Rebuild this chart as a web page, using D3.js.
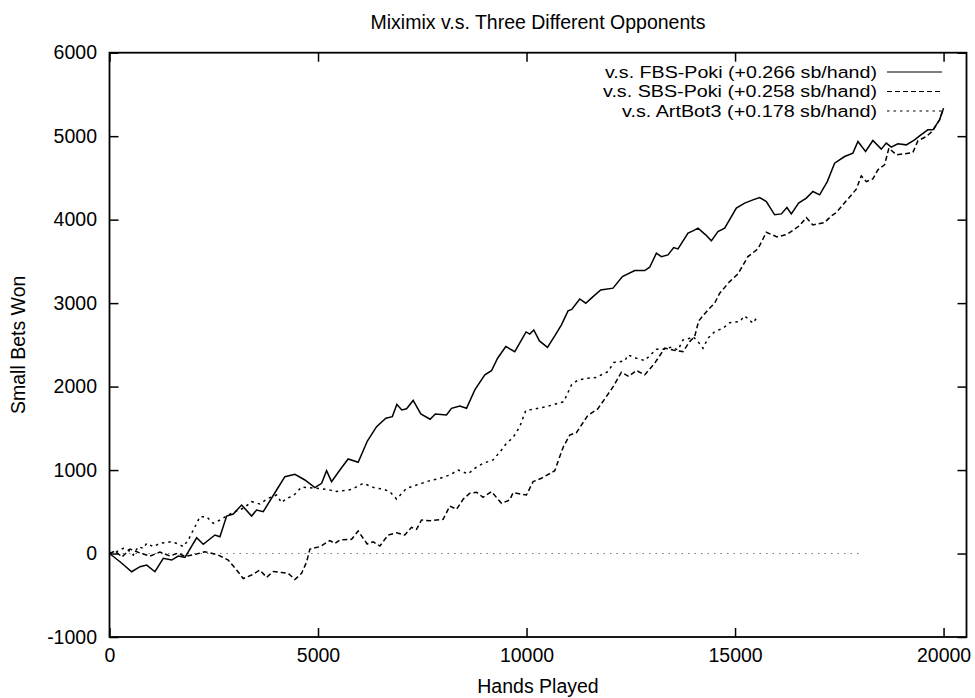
<!DOCTYPE html>
<html>

<head>
    <meta charset="utf-8">
    <title>Miximix</title>
    <script src="https://d3js.org/d3.v7.min.js"></script>

    <style>
        body {
            margin: 0;
            background: #fff;
        }

        text {
            font-family: "Liberation Sans", Arial, Helvetica, sans-serif;
            font-size: 19.5px;
            fill: #000;
        }
    </style>
</head>

<body>
    <svg id="chart" width="975" height="698"></svg>

    <script>
        // hands played / small bets won
        const fbsHands = [0, 252, 532, 731, 892, 1090, 1289, 1491, 1649, 1809, 2090, 2248, 2529, 2648, 2809, 2967, 3168, 3408, 3528, 3686,
            4007, 4206, 4446, 4685, 4925, 5086, 5205, 5325, 5524, 5723, 5963, 6183, 6404, 6627, 6782, 6890, 7010, 7123, 7281, 7465,
            7688, 7813, 8081, 8201, 8400, 8561, 8760, 9000, 9160, 9306, 9503, 9718, 9989, 10078, 10174, 10310, 10502, 10677, 10837, 10996,
            11084, 11276, 11420, 11595, 11779, 12074, 12299, 12594, 12834, 12953, 13114, 13234, 13392, 13529, 13632, 13872, 13992, 14111, 14296, 14432,
            14590, 14751, 15031, 15230, 15429, 15590, 15750, 15949, 16110, 16244, 16349, 16524, 16709, 16867, 17028, 17212, 17387, 17627, 17826, 17946,
            18130, 18305, 18506, 18626, 18746, 18904, 19106, 19305, 19425, 19623, 19743, 19903, 20000];
        const fbsWon = [0, -98, -218, -158, -138, -218, -58, -78, -30, -46, 189, 110, 222, 201, 449, 473, 581, 449, 521, 501,
            761, 921, 949, 881, 789, 841, 992, 861, 1001, 1133, 1093, 1348, 1520, 1620, 1640, 1786, 1720, 1734, 1834, 1672,
            1609, 1672, 1660, 1740, 1768, 1740, 1960, 2140, 2190, 2340, 2479, 2419, 2655, 2629, 2679, 2547, 2469, 2607, 2739, 2907,
            2925, 3050, 2999, 3078, 3158, 3179, 3318, 3390, 3390, 3430, 3598, 3557, 3578, 3665, 3650, 3838, 3866, 3898, 3818, 3746,
            3857, 3898, 4138, 4198, 4237, 4265, 4217, 4058, 4069, 4145, 4069, 4198, 4258, 4337, 4297, 4456, 4677, 4756, 4797, 4936,
            4816, 4948, 4845, 4917, 4869, 4908, 4896, 4956, 5004, 5076, 5076, 5196, 5336];

        const sbsHands = [0, 132, 300, 491, 731, 971, 1210, 1450, 1642, 1809, 2090, 2289, 2607, 2847, 3048, 3207, 3408, 3607, 3767, 3926,
            4127, 4285, 4446, 4606, 4726, 4805, 5045, 5284, 5404, 5524, 5805, 5963, 6179, 6322, 6483, 6682, 6883, 7082, 7243, 7362,
            7482, 7681, 8000, 8160, 8321, 8479, 8640, 8800, 8958, 9160, 9400, 9598, 9677, 9998, 10157, 10358, 10677, 10876, 11036, 11197,
            11468, 11707, 12074, 12275, 12450, 12635, 12834, 13073, 13313, 13512, 13752, 13912, 14032, 14128, 14351, 14511, 14631, 14871, 15070, 15310,
            15549, 15750, 16009, 16249, 16549, 16709, 16867, 17148, 17308, 17428, 17668, 17907, 18027, 18147, 18305, 18425, 18586, 18689, 18866, 19065,
            19264, 19384, 19585, 19743, 19903, 20000];
        const sbsWon = [0, 30, -42, 54, 6, -30, 18, -30, 6, -36, -6, 22, -18, -78, -198, -300, -258, -198, -285, -216,
            -228, -237, -312, -237, -102, 54, 82, 156, 120, 162, 170, 270, 114, 141, 90, 222, 249, 222, 314, 290,
            402, 393, 410, 569, 530, 650, 722, 734, 674, 741, 602, 641, 729, 701, 861, 901, 992, 1271, 1420, 1448,
            1654, 1732, 1996, 2172, 2122, 2193, 2140, 2280, 2460, 2439, 2419, 2539, 2599, 2787, 2919, 2999, 3119, 3258, 3350, 3557,
            3650, 3848, 3794, 3824, 3929, 4025, 3937, 3965, 4045, 4085, 4225, 4365, 4525, 4456, 4489, 4597, 4657, 4857, 4777, 4789,
            4804, 4944, 4996, 5064, 5196, 5336];

        const artHands = [0, 173, 331, 451, 570, 690, 810, 892, 1050, 1210, 1371, 1491, 1649, 1769, 1889, 2049, 2169, 2329, 2488, 2648,
            2847, 3008, 3207, 3408, 3607, 3806, 4007, 4127, 4247, 4405, 4606, 4884, 5205, 5445, 5805, 6083, 6363, 6562, 6722, 6883,
            7123, 7362, 7681, 7921, 8160, 8359, 8599, 8760, 8958, 9198, 9400, 9519, 9677, 9838, 9982, 10157, 10478, 10893, 11077, 11235,
            11475, 11676, 11834, 11954, 12091, 12355, 12434, 12635, 12834, 13114, 13272, 13474, 13632, 13752, 13912, 13992, 14111, 14231, 14351, 14511,
            14710, 14871, 15110, 15230, 15429, 15549];
        const artWon = [0, 22, 62, 42, -18, 82, 62, 122, 82, 122, 134, 141, 114, 82, 162, 321, 441, 441, 362, 402,
            461, 501, 542, 621, 593, 662, 701, 609, 662, 689, 797, 785, 770, 743, 767, 841, 785, 773, 741, 653,
            781, 821, 873, 901, 941, 1001, 953, 1021, 1081, 1121, 1241, 1321, 1390, 1520, 1714, 1728, 1760, 1819, 2020, 2080,
            2100, 2110, 2151, 2179, 2289, 2307, 2379, 2340, 2311, 2448, 2448, 2472, 2439, 2559, 2579, 2599, 2539, 2459, 2579, 2659,
            2699, 2766, 2778, 2847, 2759, 2847];

        // faint dotted trace along zero
        const zeroHands = [0, 18000];
        const zeroWon = [0, 0];

        const seriesNames = ["v.s. FBS-Poki (+0.266 sb/hand)", "v.s. SBS-Poki (+0.258 sb/hand)", "v.s. ArtBot3 (+0.178 sb/hand)"];
        const xTicks = [0, 5000, 10000, 15000, 20000];
        const yTicks = [-1000, 0, 1000, 2000, 3000, 4000, 5000, 6000];

        const svg = d3.select("#chart");
        const width = +svg.attr("width");
        const height = +svg.attr("height");
        const margin = { top: 52.7, right: 8.5, bottom: 61, left: 109.5 };
        const areaWidth = width - margin.left - margin.right;
        const areaHeight = height - margin.top - margin.bottom;

        const area = svg.append("g")
            .attr("transform", `translate(${margin.left},${margin.top})`);

        const x = d3.scaleLinear().domain([0, 20550]).range([0, areaWidth]);
        const y = d3.scaleLinear().domain([-1000, 6000]).range([areaHeight, 0]);

        const dashes = ["none", "5,3", "2.5,4"];
        const toPoints = (xs, ys) => xs.map((h, i) => ({ h: h, w: ys[i] }));
        const series = [
            toPoints(fbsHands, fbsWon),
            toPoints(sbsHands, sbsWon),
            toPoints(artHands, artWon)
        ];

        const line = d3.line()
            .x(d => x(d.h))
            .y(d => y(d.w));

        // zero trace
        area.append("path")
            .datum(toPoints(zeroHands, zeroWon))
            .attr("d", line)
            .attr("fill", "none")
            .attr("stroke", "#777")
            .attr("stroke-width", 1)
            .attr("stroke-dasharray", "1.5,5");

        area.selectAll(".series")
            .data(series)
            .join("path")
            .attr("class", "series")
            .attr("d", line)
            .attr("fill", "none")
            .attr("stroke", "#000")
            .attr("stroke-width", 1.5)
            .attr("stroke-dasharray", (d, i) => dashes[i]);

        const plain = d => String(d);

        // ticks on all four sides, pointing inward
        area.append("g")
            .attr("transform", `translate(0,${areaHeight})`)
            .call(d3.axisBottom(x).tickValues(xTicks).tickSizeInner(-9).tickSizeOuter(0).tickPadding(11).tickFormat(plain))
            .call(g => g.select(".domain").remove());
        area.append("g")
            .call(d3.axisTop(x).tickValues(xTicks).tickSizeInner(-9).tickSizeOuter(0).tickFormat(""))
            .call(g => g.select(".domain").remove());
        area.append("g")
            .call(d3.axisLeft(y).tickValues(yTicks).tickSizeInner(-9).tickSizeOuter(0).tickPadding(12.5).tickFormat(plain))
            .call(g => g.select(".domain").remove());
        area.append("g")
            .attr("transform", `translate(${areaWidth},0)`)
            .call(d3.axisRight(y).tickValues(yTicks).tickSizeInner(-9).tickSizeOuter(0).tickFormat(""))
            .call(g => g.select(".domain").remove());

        area.selectAll(".tick line").attr("stroke", "#000").attr("stroke-width", 1.5);
        area.selectAll(".tick text")
            .attr("font-family", null)
            .attr("font-size", null)
            .style("font-size", "19.5px");

        area.append("rect")
            .attr("width", areaWidth)
            .attr("height", areaHeight)
            .attr("fill", "none")
            .attr("stroke", "#000")
            .attr("stroke-width", 1.8);

        // legend: rows are tight, so a smaller font stretched to the reference width
        const legendWidths = [272, 274, 255];
        const legend = svg.append("g");
        const legendRows = legend.selectAll("g")
            .data(seriesNames)
            .join("g")
            .attr("transform", (d, i) => `translate(0,${72 + i * 19.5})`);
        legendRows.append("text")
            .attr("x", 877)
            .attr("dy", "0.35em")
            .attr("text-anchor", "end")
            .style("font-size", "16.8px")
            .attr("textLength", (d, i) => legendWidths[i])
            .attr("lengthAdjust", "spacingAndGlyphs")
            .text(d => d);
        legendRows.append("line")
            .attr("x1", 887)
            .attr("x2", 942)
            .attr("stroke", "#000")
            .attr("stroke-width", 1.2)
            .attr("stroke-dasharray", (d, i) => dashes[i]);

        svg.append("text")
            .attr("x", margin.left + areaWidth / 2)
            .attr("y", 22)
            .attr("dy", "0.35em")
            .attr("text-anchor", "middle")
            .text("Miximix v.s. Three Different Opponents");

        svg.append("text")
            .attr("x", margin.left + areaWidth / 2)
            .attr("y", 686)
            .attr("dy", "0.35em")
            .attr("text-anchor", "middle")
            .text("Hands Played");

        svg.append("text")
            .attr("transform", `translate(18,${margin.top + areaHeight / 2}) rotate(-90)`)
            .attr("dy", "0.35em")
            .attr("text-anchor", "middle")
            .text("Small Bets Won");
    </script>
</body>

</html>
